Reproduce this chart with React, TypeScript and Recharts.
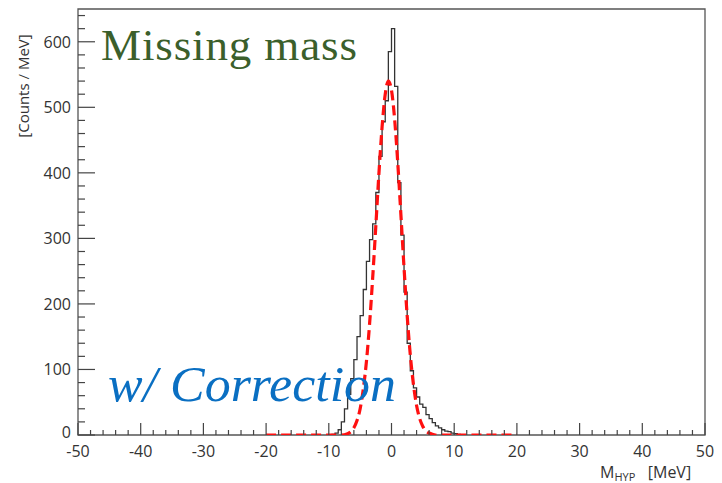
import React from 'react';
import { ComposedChart, Line, XAxis, YAxis, ReferenceArea } from 'recharts';

// Histogram: bin centers (MeV, 0.5 MeV bins) and counts per MeV
const binCenters = [
  -10.25, -9.75, -9.25, -8.75, -8.25, -7.75, -7.25, -6.75, -6.25, -5.75, -5.25,
  -4.75, -4.25, -3.75, -3.25, -2.75, -2.25, -1.75, -1.25, -0.75, -0.25,
  0.25, 0.75, 1.25, 1.75, 2.25, 2.75, 3.25, 3.75, 4.25, 4.75, 5.25, 5.75,
  6.25, 6.75, 7.25, 7.75, 8.25, 8.75, 9.25, 9.75, 10.25, 10.75, 11.25,
];
const binCounts = [
  0, 0, 1, 3, 8, 20, 40, 62, 86, 115, 150,
  182, 222, 265, 298, 322, 370, 425, 478, 510, 585,
  620, 532, 385, 305, 218, 140, 98, 72, 58, 47, 42, 31,
  25, 19, 14, 11, 8, 6, 5, 3, 2, 1, 0,
];

// Gaussian fit curve (red dashed)
const fitX = [
  -20, -8, -7, -6.5, -6, -5.5, -5, -4.5, -4, -3.5, -3, -2.5, -2, -1.5, -1, -0.5,
  0, 0.5, 1, 1.5, 2, 2.5, 3, 3.5, 4, 4.5, 5, 5.5, 6, 7, 20,
];
const fitY = [
  0, 0, 2, 5, 11, 22, 40, 70, 112, 169, 240, 319, 400, 470, 520, 540,
  526, 482, 415, 336, 255, 182, 122, 77, 45, 25, 13, 6, 3, 0, 0,
];

const xTicks = [
  -50, -48, -46, -44, -42, -40, -38, -36, -34, -32, -30, -28, -26, -24, -22, -20,
  -18, -16, -14, -12, -10, -8, -6, -4, -2, 0, 2, 4, 6, 8, 10, 12, 14, 16, 18, 20,
  22, 24, 26, 28, 30, 32, 34, 36, 38, 40, 42, 44, 46, 48, 50,
];
const xMajor = [-50, -40, -30, -20, -10, 0, 10, 20, 30, 40, 50];
const yTicks = [
  0, 20, 40, 60, 80, 100, 120, 140, 160, 180, 200, 220, 240, 260, 280, 300, 320,
  340, 360, 380, 400, 420, 440, 460, 480, 500, 520, 540, 560, 580, 600, 620, 640,
];
const yMajor = [0, 100, 200, 300, 400, 500, 600];

const histData = binCenters.map((x, i) => ({ x, counts: binCounts[i] }));
const fitData = fitX.map((x, i) => ({ x, fit: fitY[i] }));

const FONT = '"Open Sans", "DejaVu Sans", sans-serif';
const SERIF = '"Liberation Serif", "DejaVu Serif", serif';
const AXIS_COLOR = '#444';
const LABEL_COLOR = '#333';

const XTick = (props: any) => {
  const { x, y, payload } = props;
  const v = payload.value;
  const major = xMajor.includes(v);
  return (
    <g>
      <line x1={x} x2={x} y1={y} y2={y - (major ? 12 : 5)} stroke={AXIS_COLOR} strokeWidth={1.2} />
      {major && (
        <text x={x} y={y + 22} textAnchor="middle" fontFamily={FONT} fontSize={16} fill={LABEL_COLOR}>
          {String(v)}
        </text>
      )}
    </g>
  );
};

const YTick = (props: any) => {
  const { x, y, payload } = props;
  const v = payload.value;
  const major = yMajor.includes(v);
  return (
    <g>
      <line x1={x} x2={x + (major ? 17 : 7)} y1={y} y2={y} stroke={AXIS_COLOR} strokeWidth={1.2} />
      {major && (
        <text x={x - 7} y={v === 0 ? y + 3 : y + 6} textAnchor="end" fontFamily={FONT} fontSize={16} fill={LABEL_COLOR}>
          {String(v)}
        </text>
      )}
    </g>
  );
};

export default function App() {
  return (
    <div style={{ position: 'absolute', left: 0, top: 0, width: 722, height: 483, background: '#fff' }}>
      <ComposedChart
        width={722}
        height={483}
        margin={{ top: 9, right: 17, left: 18, bottom: 18 }}
      >
        <XAxis
          type="number"
          dataKey="x"
          domain={[-50, 50]}
          ticks={xTicks}
          interval={0}
          allowDataOverflow
          axisLine={false}
          tickLine={false}
          tickSize={0}
          tickMargin={0}
          height={30}
          tick={<XTick />}
        />
        <YAxis
          type="number"
          domain={[0, 650]}
          ticks={yTicks}
          interval={0}
          allowDataOverflow
          axisLine={false}
          tickLine={false}
          tickSize={0}
          tickMargin={0}
          width={60}
          tick={<YTick />}
        />
        <ReferenceArea x1={-50} x2={50} y1={0} y2={650} fill="none" stroke="#555" strokeWidth={1.3} ifOverflow="visible" />
        <Line
          data={histData}
          dataKey="counts"
          type="step"
          stroke="#333"
          strokeWidth={1.3}
          dot={false}
          activeDot={false}
          isAnimationActive={false}
        />
        <Line
          data={fitData}
          dataKey="fit"
          type="monotone"
          stroke="#ff1010"
          strokeWidth={3.2}
          strokeDasharray="10 5"
          dot={false}
          activeDot={false}
          isAnimationActive={false}
        />
      </ComposedChart>
      <svg
        width={722}
        height={483}
        style={{ position: 'absolute', left: 0, top: 0, pointerEvents: 'none' }}
      >
        <text x={101} y={60} fontFamily={SERIF} fontSize={45} fill="#3b5f2b" textLength={256} lengthAdjust="spacing">
          Missing mass
        </text>
        <text x={108} y={401} fontFamily={SERIF} fontStyle="italic" fontSize={50} fill="#0a6fc2" textLength={288} lengthAdjust="spacingAndGlyphs">
          w/ Correction
        </text>
        <text
          transform="translate(29,86) rotate(-90)"
          textAnchor="middle"
          fontFamily={FONT}
          fontSize={15}
          fill={LABEL_COLOR}
        >
          [Counts / MeV]
        </text>
        <text x={600} y={478} fontFamily={FONT} fontSize={16} fill={LABEL_COLOR}>
          M<tspan fontSize={11} dy={3}>HYP</tspan>
          <tspan dy={-3}>{'\u00a0\u00a0\u00a0[MeV]'}</tspan>
        </text>
      </svg>
    </div>
  );
}
